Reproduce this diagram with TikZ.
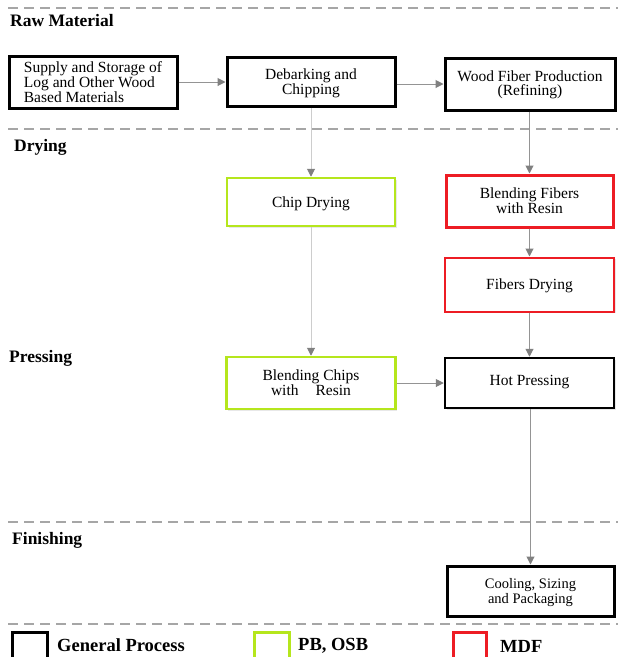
\documentclass[tikz,border=0pt]{standalone}
\usepackage{fontspec}
\setmainfont{Liberation Serif}
\usetikzlibrary{arrows.meta,shadows}
\definecolor{conn}{HTML}{949494}
\definecolor{connlight}{HTML}{CDCDCD}
\definecolor{tipgray}{HTML}{808080}
\definecolor{dashgray}{HTML}{A6A6A6}
\definecolor{pbgreen}{HTML}{B5E61D}
\definecolor{mdfred}{HTML}{ED1C24}
\tikzset{
  box/.style={draw, rectangle, minimum width=#1, minimum height=52pt, inner sep=2pt,
    align=center, font=\fontsize{15.5}{15}\selectfont, fill=white, text depth=0pt,
    drop shadow={shadow xshift=1.5pt, shadow yshift=-1.5pt, opacity=0.18, fill=gray}},
  box/.default=168pt,
  general/.style={box=#1, line width=3pt, draw=black},
  general/.default=168pt,
  pbbox/.style={box=#1, line width=2.5pt, draw=pbgreen},
  pbbox/.default=168pt,
  mdfbox/.style={box=#1, line width=3pt, draw=mdfred},
  mdfbox/.default=168pt,
  flow/.style={draw=conn, line width=1pt, -{Triangle[length=8pt,width=8pt,color=tipgray]}},
  flowlight/.style={draw=connlight, line width=1pt, -{Triangle[length=8pt,width=8pt,color=tipgray]}},
  sep/.style={draw=dashgray, line width=1.5pt, dash pattern=on 10pt off 6pt},
  section/.style={anchor=west, inner sep=0pt, font=\fontsize{17.5}{20}\selectfont\bfseries},
  legendtext/.style={anchor=west, inner sep=0pt, font=\fontsize{18.5}{22}\selectfont\bfseries},
}
\begin{document}
\begin{tikzpicture}[x=1pt,y=-1pt]
\useasboundingbox (0,0) rectangle (625,657);
\clip (0,0) rectangle (625,657);
\fill[white] (0,0) rectangle (625,657);

% separators
\draw[sep] (8,8) -- (618,8);
\draw[sep] (8,129) -- (618,129);
\draw[sep] (8,522) -- (618,522);
\draw[sep] (8,624) -- (618,624);

% section labels
\node[section] (lraw) at (10,21) {Raw Material};
\node[section] (ldry) at (14,147) {Drying};
\node[section] (lpress) at (9,358) {Pressing};
\node[section] (lfin) at (12,540) {Finishing};

% process boxes
\node[general, align=left, minimum height=52pt] (sup) at (93,82)
  {Supply and Storage of\\Log and Other Wood\\Based Materials};
\node[general, minimum height=49pt] (deb) at (311,82) {Debarking and\\Chipping};
\node[general=170pt] (wfp) at (530,84) {\raisebox{2pt}{\shortstack{Wood Fiber Production\\(Refining)}}};
\node[pbbox, minimum height=48pt] (chip) at (311,202) {Chip Drying};
\node[mdfbox=167pt] (bfr) at (529.5,201) {Blending Fibers\\with Resin};
\node[mdfbox=169pt, line width=2pt, minimum height=54pt] (fdr) at (529.5,284.5) {Fibers Drying};
\node[general=169pt, line width=2.5pt, minimum height=50pt] (hot) at (529.5,383) {\raisebox{5pt}{Hot Pressing}};
\node[pbbox=169pt] (bch) at (311,383) {Blending Chips\\with\hspace{1.1em}Resin};
\node[general=167pt, minimum height=50pt, font=\fontsize{14.5}{15}\selectfont] (cool) at (530.5,591) {Cooling, Sizing\\and Packaging};

% connectors
\draw[flow] (sup.east) -- (sup.east -| deb.west);
\draw[flow] (deb.east |- wfp.west) -- (wfp.west);
\draw[flowlight] (deb.south) -- (chip.north);
\draw[flowlight] (chip.south) -- (bch.north);
\draw[flow] (wfp.south -| bfr.north) -- (bfr.north);
\draw[flow] (bfr.south) -- (fdr.north);
\draw[flow] (fdr.south) -- (hot.north);
\draw[flow] (bch.east) -- (hot.west);
\draw[flow] (hot.south -| cool.north) -- (cool.north);

% legend
\node[draw=black, line width=3pt, minimum width=35pt, minimum height=44pt, inner sep=0pt] (kgen) at (29.5,654) {};
\node[draw=pbgreen, line width=3pt, minimum width=35pt, minimum height=44pt, inner sep=0pt] (kpb) at (271.5,654) {};
\node[draw=mdfred, line width=3pt, minimum width=33pt, minimum height=44pt, inner sep=0pt] (kmdf) at (470,654) {};
\node[legendtext] (tgen) at (57,645) {General Process};
\node[legendtext] (tpb) at (298,646) {PB, OSB};
\node[legendtext] (tmdf) at (500,646) {MDF};
\end{tikzpicture}
\end{document}
